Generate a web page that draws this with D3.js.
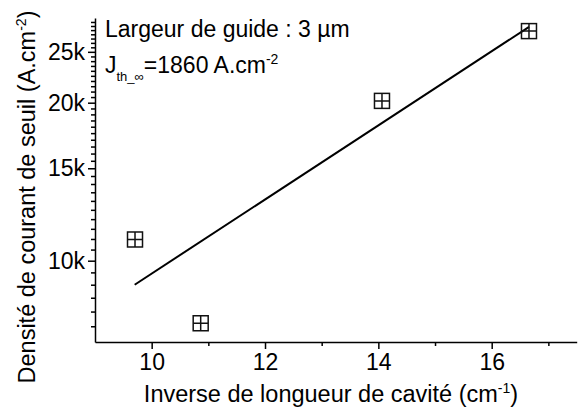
<!DOCTYPE html>
<html>
<head>
<meta charset="utf-8">
<script src="https://cdn.jsdelivr.net/npm/d3@7"></script>
<style>
  body { margin: 0; background: #fff; }
  text { font-family: "Liberation Sans", Arial, Helvetica, sans-serif; fill: #000; }
</style>
</head>
<body>
<svg id="chart" width="580" height="409"></svg>
<script>
// Measured threshold current density vs. inverse cavity length (3 µm guide)
const inverseLength = [9.706, 10.865, 14.064, 16.658];       // cm^-1
const thresholdDensity = [10975, 7600, 20160, 27380];        // A.cm^-2

// Exponential fit, drawn as a straight segment on the log axis
const fitInverseLength = [9.70, 16.66];
const fitDensity = [9000, 27900];

// Axis ticks
const xMajorTicks = [10, 12, 14, 16];
const xMinorTicks = [11, 13, 15, 17];
const yMajorTicks = [10000, 15000, 20000, 25000];
const yTickLabels = ["10k", "15k", "20k", "25k"];
const yMinorTicks = [7500, 8000, 8500, 9000, 9500,
  10500, 11000, 11500, 12000, 12500, 13000, 13500, 14000, 14500,
  15500, 16000, 16500, 17000, 17500, 18000, 18500, 19000, 19500,
  20500, 21000, 21500, 22000, 22500, 23000, 23500, 24000, 24500,
  25500, 26000, 26500, 27000, 27500, 28000, 28500];

const svg = d3.select("#chart");
const plotLeft = 95, plotRight = 576.7, plotTop = 18, plotBottom = 342;

const x = d3.scaleLinear().domain([9, 17.5]).range([plotLeft, plotRight]);
const y = d3.scaleLog().domain([7000, 29000]).range([plotBottom, plotTop]);

const FS = 23;
const TITLE_FS = 23.5;

// Y axis
svg.append("g")
  .attr("transform", `translate(${plotLeft},0)`)
  .call(d3.axisLeft(y).tickValues(yMajorTicks)
    .tickFormat((d, i) => yTickLabels[i])
    .tickSizeInner(7).tickSizeOuter(0).tickPadding(3));
svg.append("g")
  .attr("transform", `translate(${plotLeft},0)`)
  .call(d3.axisLeft(y).tickValues(yMinorTicks).tickFormat("")
    .tickSizeInner(4).tickSizeOuter(0))
  .select(".domain").remove();

// X axis
svg.append("g")
  .attr("transform", `translate(0,${plotBottom})`)
  .call(d3.axisBottom(x).tickValues(xMajorTicks)
    .tickFormat(d3.format("d"))
    .tickSizeInner(7).tickSizeOuter(0).tickPadding(5));
svg.append("g")
  .attr("transform", `translate(0,${plotBottom})`)
  .call(d3.axisBottom(x).tickValues(xMinorTicks).tickFormat("")
    .tickSizeInner(4).tickSizeOuter(0))
  .select(".domain").remove();

svg.selectAll(".domain, .tick line")
  .attr("stroke", "#000").attr("stroke-width", 1.5);
svg.selectAll(".tick text")
  .style("font-family", "'Liberation Sans', Arial, sans-serif")
  .style("font-size", FS + "px")
  .attr("fill", "#000");

// Fit line
const fitPts = fitInverseLength.map((v, i) => [x(v), y(fitDensity[i])]);
svg.append("path")
  .attr("d", d3.line()(fitPts))
  .attr("fill", "none")
  .attr("stroke", "#000")
  .attr("stroke-width", 2);

// Square markers with a cross inside
const s = 15;
const pts = svg.append("g").selectAll("g")
  .data(inverseLength.map((v, i) => [v, thresholdDensity[i]]))
  .join("g")
  .attr("transform", d => `translate(${x(d[0])},${y(d[1])})`);
pts.append("rect")
  .attr("x", -s / 2).attr("y", -s / 2)
  .attr("width", s).attr("height", s)
  .attr("fill", "none").attr("stroke", "#111").attr("stroke-width", 1.5);
pts.append("path")
  .attr("d", `M${-s / 2},0H${s / 2}M0,${-s / 2}V${s / 2}`)
  .attr("stroke", "#111").attr("stroke-width", 1.5);

// Axis titles
const xt = svg.append("text")
  .attr("x", 331).attr("y", 402)
  .attr("text-anchor", "middle")
  .style("font-size", TITLE_FS + "px");
xt.append("tspan").text("Inverse de longueur de cavité (cm");
xt.append("tspan").attr("dy", -9).style("font-size", "14px").text("-1");
xt.append("tspan").attr("dy", 9).text(")");

const yt = svg.append("text")
  .attr("transform", "translate(35,197) rotate(-90)")
  .attr("text-anchor", "middle")
  .style("font-size", TITLE_FS + "px");
yt.append("tspan").text("Densité de courant de seuil (A.cm");
yt.append("tspan").attr("dy", -9).style("font-size", "14px").text("-2");
yt.append("tspan").attr("dy", 9).text(")");

// Annotations
svg.append("text")
  .attr("x", 105).attr("y", 37)
  .style("font-size", FS + "px")
  .text("Largeur de guide : 3 µm");

const j = svg.append("text")
  .attr("x", 105).attr("y", 73)
  .style("font-size", FS + "px");
j.append("tspan").text("J");
j.append("tspan").attr("dy", 8).style("font-size", "13px").text("th_∞");
j.append("tspan").attr("dy", -8).text("=1860 A.cm");
j.append("tspan").attr("dy", -9).style("font-size", "14px").text("-2");
</script>
</body>
</html>
